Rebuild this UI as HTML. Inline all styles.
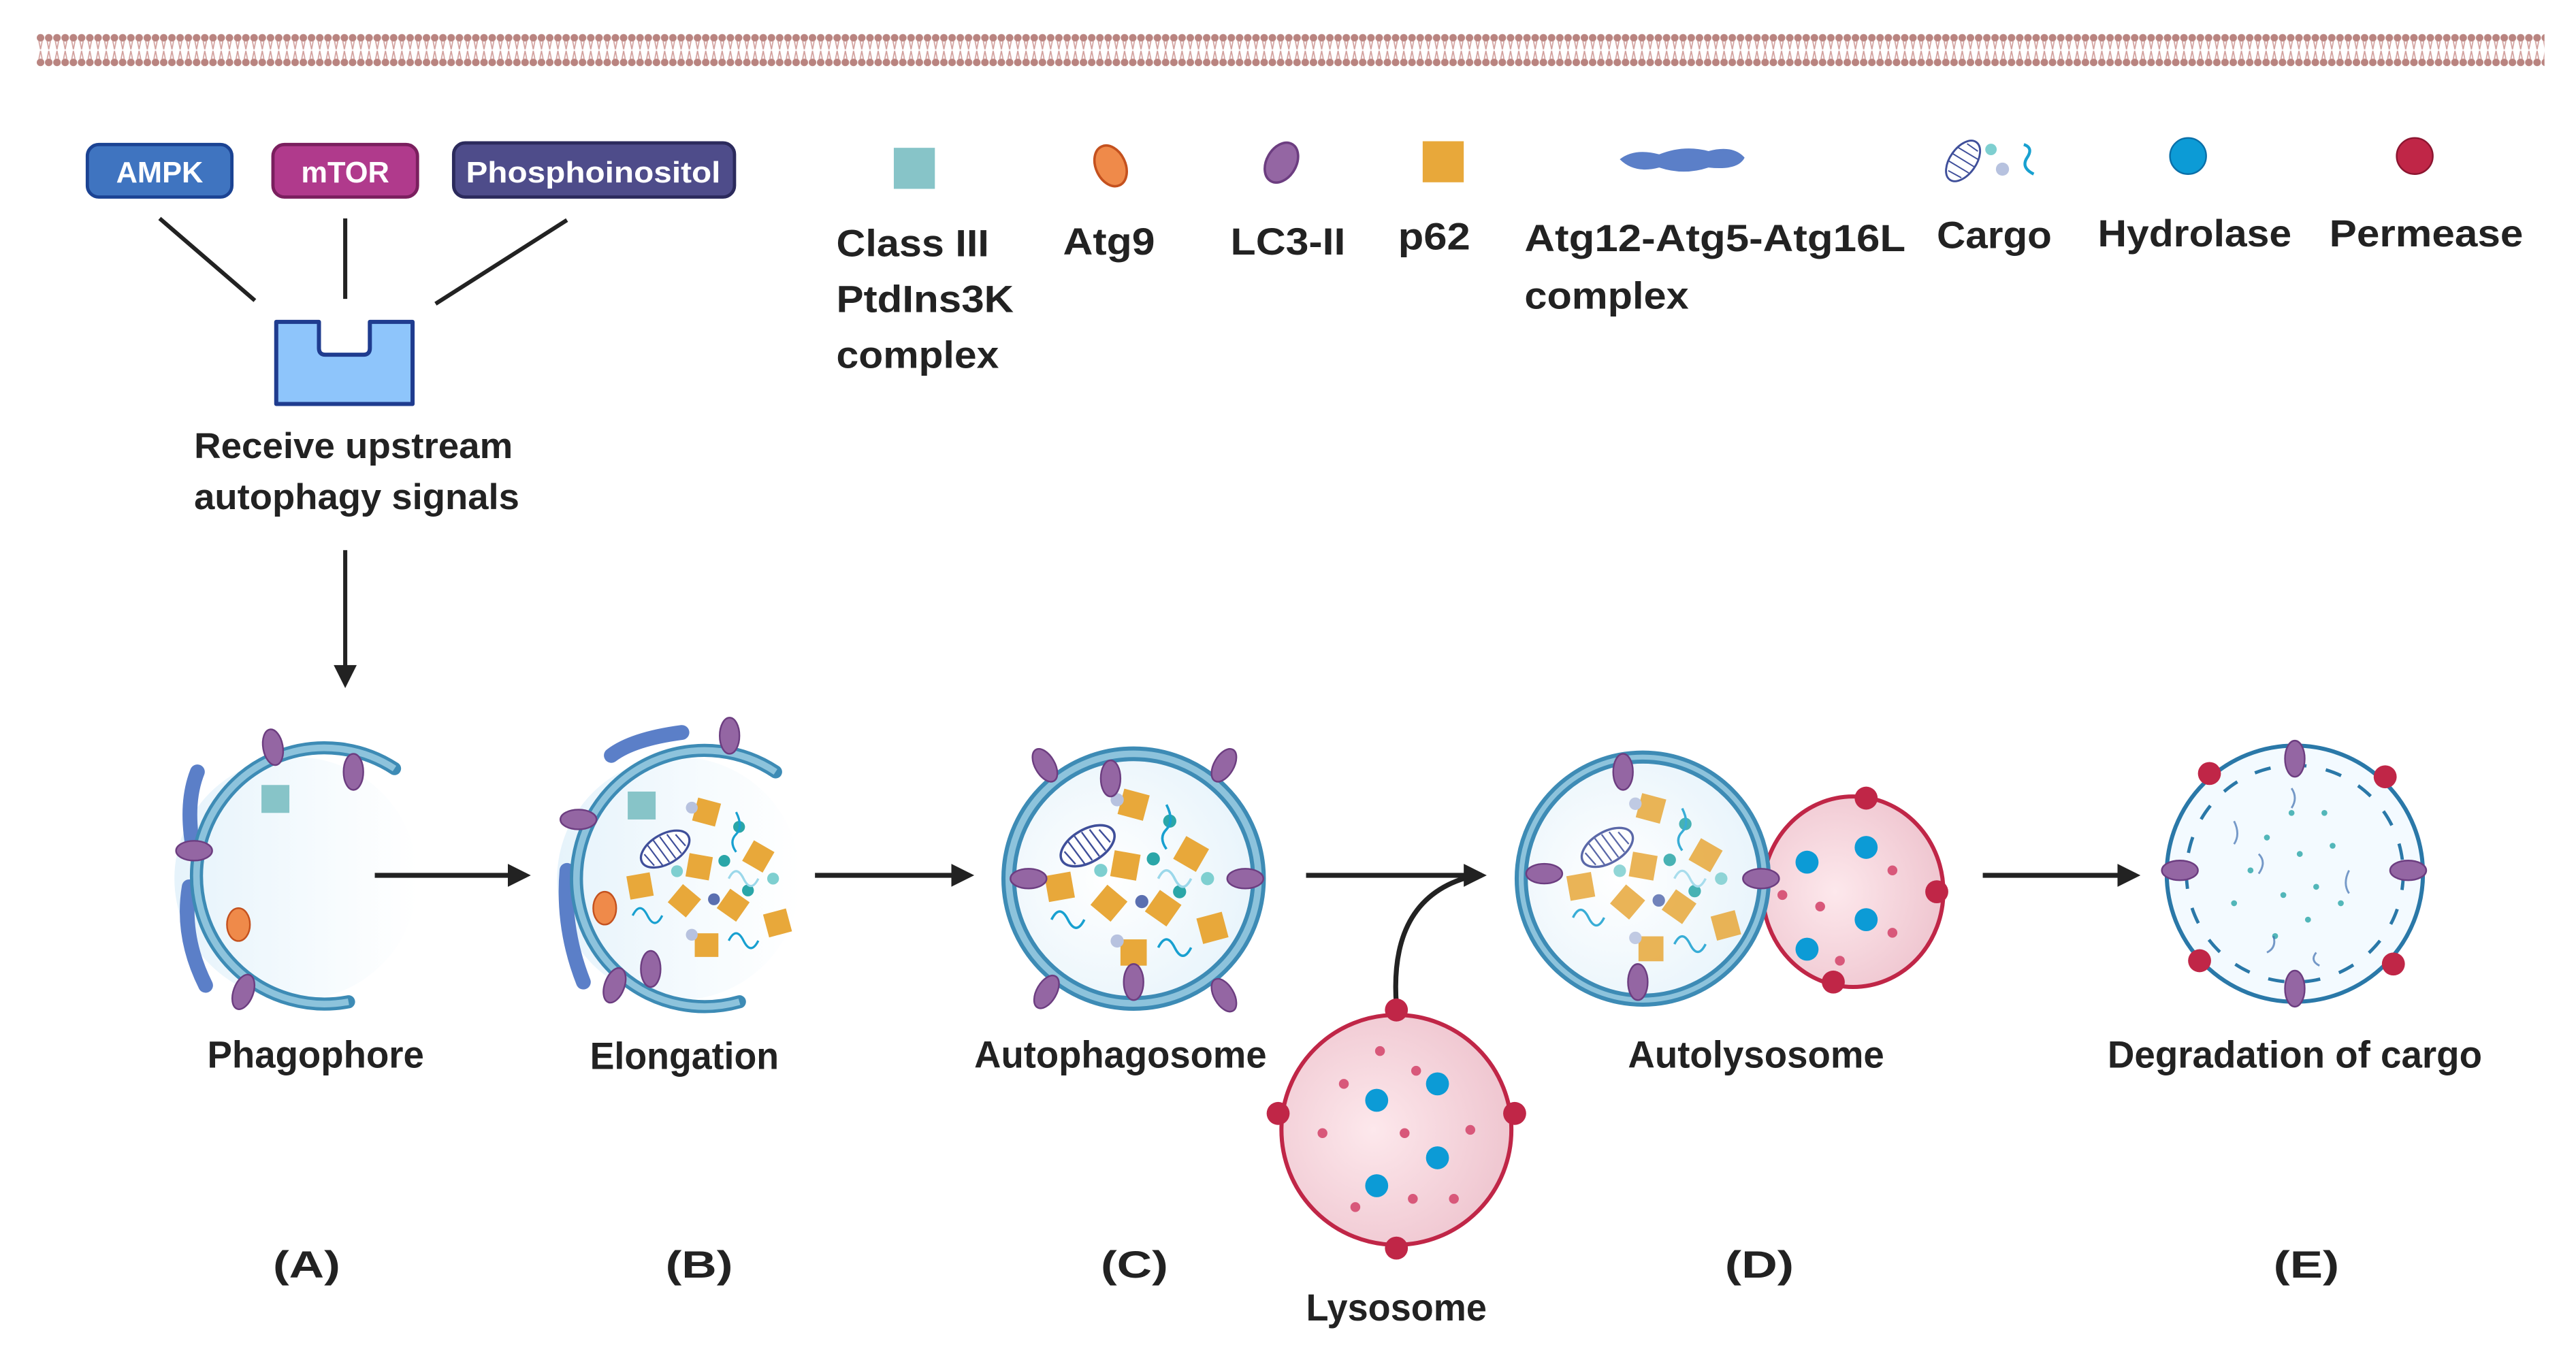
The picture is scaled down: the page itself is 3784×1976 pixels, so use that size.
<!DOCTYPE html>
<html><head><meta charset="utf-8"><style>
html,body{margin:0;padding:0;background:#fff;}
svg{display:block;}
text{font-family:"Liberation Sans",sans-serif;font-weight:bold;fill:#222;}
</style></head><body>
<svg width="3784" height="1976" viewBox="0 0 1568 819" xmlns="http://www.w3.org/2000/svg">
<defs>
<pattern id="mem" x="22" y="20" width="5" height="21" patternUnits="userSpaceOnUse">
<circle cx="2.5" cy="3" r="2.3" fill="#b98480"/>
<circle cx="2.5" cy="18" r="2.3" fill="#b98480"/>
<path d="M1.5 5 L2.5 10 L3.5 5 M1.5 16 L2.5 11 L3.5 16" stroke="#d2a09d" stroke-width="0.7" fill="none"/>
</pattern>
<marker id="ah" markerWidth="14" markerHeight="14" refX="11" refY="7" orient="auto" markerUnits="userSpaceOnUse">
<path d="M0 0 L14 7 L0 14 Z" fill="#222"/>
</marker>
<g id="lc3"><ellipse rx="6" ry="11" fill="#9466a3" stroke="#6c3d80" stroke-width="1"/></g>
<g id="p62"><rect x="-8" y="-8" width="16" height="16" fill="#e8a83a"/></g>
<g id="cargo">
<g transform="translate(-28,-20) rotate(-30)"><ellipse rx="18" ry="10" fill="#fff" stroke="#3f4f9a" stroke-width="1.5"/><path d="M-14 -4 L-12 6 M-9 -8 L-7 9 M-4 -9 L-2 9 M1 -9 L3 9 M6 -8 L8 8 M11 -5 L13 5" stroke="#3f4f9a" stroke-width="1"/></g>
<use href="#p62" transform="translate(0,-45) rotate(15)"/>
<use href="#p62" transform="translate(35,-15) rotate(30)"/>
<use href="#p62" transform="translate(-5,-8) rotate(10)"/>
<use href="#p62" transform="translate(-45,5) rotate(-10)"/>
<use href="#p62" transform="translate(-15,15) rotate(40)"/>
<use href="#p62" transform="translate(18,18) rotate(35)"/>
<use href="#p62" transform="translate(48,30) rotate(-15)"/>
<use href="#p62" transform="translate(0,45)"/>
<circle cx="22" cy="-35" r="4" fill="#2aa6a8"/><circle cx="12" cy="-12" r="4" fill="#2aa6a8"/>
<circle cx="-20" cy="-5" r="4" fill="#7ecfd0"/><circle cx="28" cy="8" r="4" fill="#2aa6a8"/>
<circle cx="5" cy="14" r="4" fill="#5a6fb0"/><circle cx="-10" cy="38" r="4" fill="#b7c2df"/>
<circle cx="-10" cy="-48" r="4" fill="#b7c2df"/><circle cx="45" cy="0" r="4" fill="#7ecfd0"/>
<path d="M-50 25 q5 -10 10 0 q5 10 10 0" stroke="#18a0d0" stroke-width="1.5" fill="none"/>
<path d="M20 -45 q5 10 0 15 q-5 5 0 12" stroke="#18a0d0" stroke-width="1.5" fill="none"/>
<path d="M15 0 q5 -10 10 0 q5 10 10 0" stroke="#9bd8ea" stroke-width="1.5" fill="none"/>
<path d="M15 42 q5 -10 10 0 q5 10 10 0" stroke="#18a0d0" stroke-width="1.5" fill="none"/>
</g>
<radialGradient id="inner" cx="0.4" cy="0.5" r="0.6"><stop offset="0" stop-color="#ffffff"/><stop offset="1" stop-color="#e8f4fb"/></radialGradient>
<linearGradient id="fade" x1="0" y1="0" x2="1" y2="0"><stop offset="0" stop-color="#e6f3fb"/><stop offset="0.6" stop-color="#f6fbfe"/><stop offset="1" stop-color="#ffffff"/></linearGradient>
<radialGradient id="lyso" cx="0.4" cy="0.5" r="0.6"><stop offset="0" stop-color="#fde8ec"/><stop offset="1" stop-color="#efc6d0"/></radialGradient>
</defs>

<rect x="22" y="20" width="1527" height="21" fill="url(#mem)"/>

<!-- pills -->
<rect x="53" y="88" width="88" height="32" rx="7" fill="#3f74c0" stroke="#1b4393" stroke-width="2"/>
<text x="97" y="111" text-anchor="middle" font-size="18" style="fill:#fff">AMPK</text>
<rect x="166" y="88" width="88" height="32" rx="7" fill="#b03a8c" stroke="#7a1f5e" stroke-width="2"/>
<text x="210" y="111" text-anchor="middle" font-size="18" style="fill:#fff">mTOR</text>
<rect x="276" y="87" width="171" height="33" rx="7" fill="#4e4c8a" stroke="#2b2a5c" stroke-width="2"/>
<text x="361" y="111" text-anchor="middle" font-size="18" textLength="155" lengthAdjust="spacingAndGlyphs" style="fill:#fff">Phosphoinositol</text>
<g stroke="#222" stroke-width="2.5">
<line x1="97" y1="133" x2="155" y2="183"/><line x1="210" y1="133" x2="210" y2="182"/><line x1="345" y1="134" x2="265" y2="185"/>
</g>
<path d="M168 196 H194 V212 Q194 216 198 216 H221 Q225 216 225 212 V196 H251 V246 H168 Z" fill="#8ec5fb" stroke="#1f3c8f" stroke-width="2.5" stroke-linejoin="round"/>
<text x="118" y="279" font-size="22" textLength="194" lengthAdjust="spacingAndGlyphs">Receive upstream</text>
<text x="118" y="310" font-size="22" textLength="198" lengthAdjust="spacingAndGlyphs">autophagy signals</text>
<line x1="210" y1="335" x2="210" y2="416" stroke="#222" stroke-width="2.5" marker-end="url(#ah)"/>

<!-- legend -->
<rect x="544" y="90" width="25" height="25" fill="#87c4c8"/>
<text x="509" y="156" font-size="23" textLength="93" lengthAdjust="spacingAndGlyphs">Class III</text>
<text x="509" y="190" font-size="23" textLength="108" lengthAdjust="spacingAndGlyphs">PtdIns3K</text>
<text x="509" y="224" font-size="23" textLength="99" lengthAdjust="spacingAndGlyphs">complex</text>
<ellipse cx="676" cy="101" rx="9" ry="13" transform="rotate(-25 676 101)" fill="#ef8a4a" stroke="#c4511e" stroke-width="1.5"/>
<text x="647" y="155" font-size="23" textLength="56" lengthAdjust="spacingAndGlyphs">Atg9</text>
<ellipse cx="780" cy="99" rx="9" ry="13" transform="rotate(30 780 99)" fill="#9466a3" stroke="#6c3d80" stroke-width="1.5"/>
<text x="749" y="155" font-size="23" textLength="70" lengthAdjust="spacingAndGlyphs">LC3-II</text>
<rect x="866" y="86" width="25" height="25" fill="#e8a83a"/>
<text x="851" y="152" font-size="23" textLength="44" lengthAdjust="spacingAndGlyphs">p62</text>
<path d="M986 97 Q995 90 1010 94 Q1025 88 1040 92 Q1055 88 1062 96 Q1058 104 1040 102 Q1025 107 1010 102 Q995 106 986 97 Z" fill="#5b7fc8"/>
<text x="928" y="153" font-size="23" textLength="232" lengthAdjust="spacingAndGlyphs">Atg12-Atg5-Atg16L</text>
<text x="928" y="188" font-size="23" textLength="100" lengthAdjust="spacingAndGlyphs">complex</text>
<g transform="translate(1195,98) rotate(-55)"><ellipse rx="14" ry="8" fill="#fff" stroke="#3f4f9a" stroke-width="1.2"/><path d="M-10 -4 L-9 5 M-5 -7 L-4 7 M0 -8 L1 8 M5 -7 L6 7 M10 -4 L10 4" stroke="#3f4f9a" stroke-width="0.8"/></g>
<circle cx="1212" cy="91" r="3.5" fill="#7ecfd0"/><circle cx="1219" cy="103" r="4" fill="#b7c2df"/>
<path d="M1232 88 q6 2 2 8 q-4 6 4 10" stroke="#18a0d0" stroke-width="1.8" fill="none"/>
<text x="1179" y="151" font-size="23" textLength="70" lengthAdjust="spacingAndGlyphs">Cargo</text>
<circle cx="1332" cy="95" r="11" fill="#0c9bd6" stroke="#0a6fa8" stroke-width="1"/>
<text x="1277" y="150" font-size="23" textLength="118" lengthAdjust="spacingAndGlyphs">Hydrolase</text>
<circle cx="1470" cy="95" r="11" fill="#c02647" stroke="#8b1530" stroke-width="1"/>
<text x="1418" y="150" font-size="23" textLength="118" lengthAdjust="spacingAndGlyphs">Permease</text>

<!-- A phagophore -->
<g>
<circle cx="180" cy="535" r="74" fill="url(#fade)"/>
<path d="M120 470 Q112 490 118 520" stroke="#5b7fc8" stroke-width="9" stroke-linecap="round" fill="none"/>
<path d="M115 540 Q110 570 125 600" stroke="#5b7fc8" stroke-width="9" stroke-linecap="round" fill="none"/>
<path d="M240 468 A78 78 0 1 0 212 610" fill="none" stroke="#3d8bb5" stroke-width="8" stroke-linecap="round"/>
<path d="M240 468 A78 78 0 1 0 212 610" fill="none" stroke="#8dc3dc" stroke-width="4"/>
<rect x="159" y="478" width="17" height="17" fill="#87c4c8"/>
<ellipse cx="145" cy="563" rx="7" ry="10" fill="#ef8a4a" stroke="#c4511e"/>
<use href="#lc3" transform="translate(166,455) rotate(-10)"/>
<use href="#lc3" transform="translate(215,470)"/>
<use href="#lc3" transform="translate(118,518) rotate(90)"/>
<use href="#lc3" transform="translate(148,604) rotate(20)"/>
</g>
<line x1="228" y1="533" x2="320" y2="533" stroke="#222" stroke-width="3" marker-end="url(#ah)"/>

<!-- B elongation -->
<g>
<circle cx="413" cy="535" r="74" fill="url(#fade)"/>
<path d="M372 460 Q385 450 415 446" stroke="#5b7fc8" stroke-width="9" stroke-linecap="round" fill="none"/>
<path d="M345 530 Q342 565 355 598" stroke="#5b7fc8" stroke-width="9" stroke-linecap="round" fill="none"/>
<path d="M472 470 A78 78 0 1 0 450 610" fill="none" stroke="#3d8bb5" stroke-width="8" stroke-linecap="round"/>
<path d="M472 470 A78 78 0 1 0 450 610" fill="none" stroke="#8dc3dc" stroke-width="4"/>
<rect x="382" y="482" width="17" height="17" fill="#87c4c8"/>
<ellipse cx="368" cy="553" rx="7" ry="10" fill="#ef8a4a" stroke="#c4511e"/>
<use href="#cargo" transform="translate(430,535) scale(0.9)"/>
<use href="#lc3" transform="translate(444,448)"/>
<use href="#lc3" transform="translate(352,499) rotate(90)"/>
<use href="#lc3" transform="translate(374,600) rotate(20)"/>
<use href="#lc3" transform="translate(396,590)"/>
</g>
<line x1="496" y1="533" x2="590" y2="533" stroke="#222" stroke-width="3" marker-end="url(#ah)"/>

<!-- C autophagosome -->
<g>
<circle cx="690" cy="535" r="76" fill="url(#inner)" stroke="#3d8bb5" stroke-width="9"/>
<circle cx="690" cy="535" r="76" fill="none" stroke="#8dc3dc" stroke-width="4"/>
<use href="#cargo" transform="translate(690,535)"/>
<use href="#lc3" transform="translate(636,466) rotate(-30)"/>
<use href="#lc3" transform="translate(745,466) rotate(30)"/>
<use href="#lc3" transform="translate(676,474)"/>
<use href="#lc3" transform="translate(626,535) rotate(90)"/>
<use href="#lc3" transform="translate(758,535) rotate(90)"/>
<use href="#lc3" transform="translate(637,604) rotate(30)"/>
<use href="#lc3" transform="translate(745,606) rotate(-30)"/>
<use href="#lc3" transform="translate(690,598)"/>
</g>
<line x1="795" y1="533" x2="902" y2="533" stroke="#222" stroke-width="3" marker-end="url(#ah)"/>
<path d="M850 612 Q845 545 898 533" stroke="#222" stroke-width="3" fill="none"/>

<!-- Lysosome -->
<g>
<circle cx="850" cy="688" r="70" fill="url(#lyso)" stroke="#c02647" stroke-width="2.5"/>
<circle cx="838" cy="670" r="7" fill="#0c9bd6"/><circle cx="875" cy="660" r="7" fill="#0c9bd6"/>
<circle cx="875" cy="705" r="7" fill="#0c9bd6"/><circle cx="838" cy="722" r="7" fill="#0c9bd6"/>
<g fill="#d8587a"><circle cx="818" cy="660" r="3"/><circle cx="862" cy="652" r="3"/><circle cx="895" cy="688" r="3"/><circle cx="805" cy="690" r="3"/><circle cx="855" cy="690" r="3"/><circle cx="860" cy="730" r="3"/><circle cx="825" cy="735" r="3"/><circle cx="840" cy="640" r="3"/><circle cx="885" cy="730" r="3"/></g>
<circle cx="850" cy="615" r="7" fill="#c02647"/><circle cx="922" cy="678" r="7" fill="#c02647"/>
<circle cx="778" cy="678" r="7" fill="#c02647"/><circle cx="850" cy="760" r="7" fill="#c02647"/>
</g>

<!-- D autolysosome -->
<g>
<ellipse cx="1128" cy="543" rx="55" ry="58" fill="url(#lyso)" stroke="#c02647" stroke-width="2.5"/>
<circle cx="1100" cy="525" r="7" fill="#0c9bd6"/><circle cx="1136" cy="516" r="7" fill="#0c9bd6"/>
<circle cx="1136" cy="560" r="7" fill="#0c9bd6"/><circle cx="1100" cy="578" r="7" fill="#0c9bd6"/>
<g fill="#d8587a"><circle cx="1152" cy="530" r="3"/><circle cx="1108" cy="552" r="3"/><circle cx="1152" cy="568" r="3"/><circle cx="1085" cy="545" r="3"/><circle cx="1120" cy="585" r="3"/></g>
<circle cx="1136" cy="486" r="7" fill="#c02647"/><circle cx="1179" cy="543" r="7" fill="#c02647"/><circle cx="1116" cy="598" r="7" fill="#c02647"/>
<circle cx="1000" cy="535" r="74" fill="url(#inner)" stroke="#3d8bb5" stroke-width="8"/>
<circle cx="1000" cy="535" r="74" fill="none" stroke="#8dc3dc" stroke-width="3"/>
<use href="#cargo" transform="translate(1005,535) scale(0.95)" opacity="0.85"/>
<use href="#lc3" transform="translate(988,470)"/>
<use href="#lc3" transform="translate(940,532) rotate(90)"/>
<use href="#lc3" transform="translate(1072,535) rotate(90)"/>
<use href="#lc3" transform="translate(997,598)"/>
</g>
<line x1="1207" y1="533" x2="1300" y2="533" stroke="#222" stroke-width="3" marker-end="url(#ah)"/>

<!-- E degradation -->
<g>
<circle cx="1397" cy="532" r="78" fill="#f3faff" stroke="#2a78a8" stroke-width="2.5"/>
<circle cx="1397" cy="532" r="66" fill="none" stroke="#2a78a8" stroke-width="2" stroke-dasharray="10 12"/>
<g fill="#2aa6a8" opacity="0.8">
<circle cx="1380" cy="510" r="1.8"/><circle cx="1400" cy="520" r="1.8"/><circle cx="1410" cy="540" r="1.8"/><circle cx="1390" cy="545" r="1.8"/><circle cx="1420" cy="515" r="1.8"/><circle cx="1370" cy="530" r="1.8"/><circle cx="1405" cy="560" r="1.8"/><circle cx="1425" cy="550" r="1.8"/><circle cx="1385" cy="570" r="1.8"/><circle cx="1360" cy="550" r="1.8"/><circle cx="1415" cy="495" r="1.8"/><circle cx="1395" cy="495" r="1.8"/>
</g>
<g stroke="#3f6fb0" stroke-width="1.2" fill="none" opacity="0.7">
<path d="M1360 500 q4 8 0 14"/><path d="M1375 520 q5 5 0 12"/><path d="M1430 530 q-4 8 0 14"/><path d="M1380 580 q6 -3 4 -10"/><path d="M1410 580 q-4 5 2 8"/><path d="M1395 480 q4 6 0 12"/>
</g>
<use href="#lc3" transform="translate(1397,462)"/><use href="#lc3" transform="translate(1397,602)"/>
<use href="#lc3" transform="translate(1327,530) rotate(90)"/><use href="#lc3" transform="translate(1466,530) rotate(90)"/>
<circle cx="1345" cy="471" r="7" fill="#c02647"/><circle cx="1452" cy="473" r="7" fill="#c02647"/>
<circle cx="1339" cy="585" r="7" fill="#c02647"/><circle cx="1457" cy="587" r="7" fill="#c02647"/>
</g>

<!-- labels -->
<g font-size="23">
<text x="126" y="650" textLength="132" lengthAdjust="spacingAndGlyphs">Phagophore</text>
<text x="359" y="651" textLength="115" lengthAdjust="spacingAndGlyphs">Elongation</text>
<text x="593" y="650" textLength="178" lengthAdjust="spacingAndGlyphs">Autophagosome</text>
<text x="991" y="650" textLength="156" lengthAdjust="spacingAndGlyphs">Autolysosome</text>
<text x="1283" y="650" textLength="228" lengthAdjust="spacingAndGlyphs">Degradation of cargo</text>
<text x="795" y="804" textLength="110" lengthAdjust="spacingAndGlyphs">Lysosome</text>
<text x="166" y="778" textLength="41" lengthAdjust="spacingAndGlyphs">(A)</text>
<text x="405" y="778" textLength="41" lengthAdjust="spacingAndGlyphs">(B)</text>
<text x="670" y="778" textLength="41" lengthAdjust="spacingAndGlyphs">(C)</text>
<text x="1050" y="778" textLength="42" lengthAdjust="spacingAndGlyphs">(D)</text>
<text x="1384" y="778" textLength="40" lengthAdjust="spacingAndGlyphs">(E)</text>
</g>
</svg>
</body></html>
